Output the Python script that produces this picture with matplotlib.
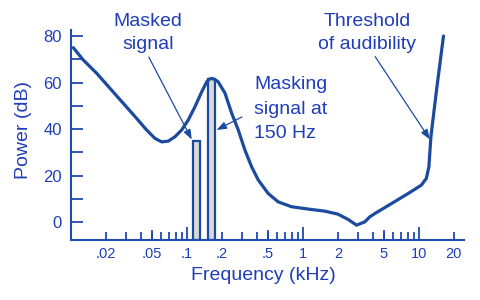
import matplotlib
matplotlib.use("Agg")
import matplotlib.pyplot as plt
from matplotlib.ticker import FixedLocator, FuncFormatter, NullLocator

# ---------------- data ----------------
freq_khz = [0.01047, 0.01276, 0.01664, 0.0217, 0.0282, 0.0368, 0.0449, 0.0530,
            0.0605, 0.069, 0.0788, 0.090, 0.1026, 0.1172, 0.134, 0.148, 0.155,
            0.163, 0.173, 0.186, 0.213, 0.243, 0.277, 0.316, 0.361, 0.412,
            0.502, 0.612, 0.798, 1.11, 1.55, 2.01, 2.46, 2.90, 3.42, 3.78, 4.18,
            5.82, 8.09, 10.5, 11.6, 12.2, 12.7, 14.2, 16.3]
level_db = [75.0, 69.7, 64.0, 57.5, 51.1, 44.6, 39.6, 36.0,
            34.5, 34.8, 36.7, 39.6, 43.9, 49.6, 56.0, 60.3, 61.4,
            61.8, 61.4, 60.3, 55.4, 46.8, 39.6, 31.0, 23.8, 18.1,
            12.3, 8.7, 6.6, 5.6, 4.7, 3.4, 1.1, -1.3, 0.1, 2.3, 3.7,
            8.0, 12.3, 15.9, 18.8, 23.8, 36.7, 56.8, 80]

bar_names = ["Masked signal", "Masking signal at 150 Hz"]
bar_freq_khz = [0.121, 0.162]
bar_level_db = [35, 61.5]

ytick_values = [0, 20, 40, 60, 80]
ytick_minor = [10, 30, 50, 70]
xtick_values = [0.02, 0.05, 0.1, 0.2, 0.5, 1, 2, 5, 10, 20]
xtick_labels = [".02", ".05", ".1", ".2", ".5", "1", "2", "5", "10", "20"]
x_decades = [0.1, 1, 10]
x_fives = [0.05, 0.5, 5]
x_minor = [0.02, 0.03, 0.04, 0.05, 0.06, 0.07, 0.08, 0.09,
           0.2, 0.3, 0.4, 0.5, 0.6, 0.7, 0.8, 0.9,
           2, 3, 4, 5, 6, 7, 8, 9, 20]

# ---------------- style ----------------
CURVE = "#1b4a9f"
AXIS = "#2149b0"
TEXT = "#1f3db8"
BAR_FILL = "#d9d9d9"

plt.rcParams["font.family"] = ["Liberation Sans", "DejaVu Sans"]

fig = plt.figure(figsize=(4.8, 3.0), dpi=100)
ax = fig.add_axes([71 / 480, 60 / 300, 393 / 480, 210 / 300])
ax.set_xscale("log")
YMIN, YMAX = -7.7, 82.6
ax.set_xlim(0.01, 24.5)
ax.set_ylim(YMIN, YMAX)

# bars
half = 1.076
lefts = [f / half for f in bar_freq_khz]
widths = [f * half - f / half for f in bar_freq_khz]
ax.bar(lefts, [h - YMIN for h in bar_level_db], width=widths, bottom=YMIN,
       align="edge", color=BAR_FILL, edgecolor=CURVE, linewidth=1.6, zorder=2)

# curve
ax.plot(freq_khz, level_db, color=CURVE, lw=2.3, solid_joinstyle="round",
        solid_capstyle="round", zorder=3)

# spines
for s in ["top", "right"]:
    ax.spines[s].set_visible(False)
for s in ["left", "bottom"]:
    ax.spines[s].set_color(AXIS)
    ax.spines[s].set_linewidth(1.5)

# y ticks
ax.yaxis.set_major_locator(FixedLocator(ytick_values))
ax.yaxis.set_minor_locator(FixedLocator(ytick_minor))
ax.tick_params(axis="y", which="both", direction="in", length=8.6, width=1.3,
               color=AXIS, labelcolor=TEXT, labelsize=12, pad=6.5)

# x ticks
label_map = {round(v, 4): t for v, t in zip(xtick_values, xtick_labels)}
fmt = FuncFormatter(lambda v, pos: label_map.get(round(v, 4), ""))
ax.xaxis.set_major_locator(FixedLocator(x_decades))
ax.xaxis.set_minor_locator(FixedLocator(x_minor))
ax.xaxis.set_major_formatter(fmt)
ax.xaxis.set_minor_formatter(fmt)
ax.tick_params(axis="x", which="major", direction="in", length=9.4, width=1.3,
               color=AXIS, labelcolor=TEXT, labelsize=10.5, pad=5)
ax.tick_params(axis="x", which="minor", direction="in", length=5.5, width=1.3,
               color=AXIS, labelcolor=TEXT, labelsize=10.5, pad=5)

sec = ax.secondary_xaxis("bottom")
sec.xaxis.set_major_locator(FixedLocator(x_fives))
sec.xaxis.set_minor_locator(NullLocator())
sec.tick_params(axis="x", which="major", direction="in", length=7.2, width=1.3,
                color=AXIS, labelbottom=False)
sec.spines["bottom"].set_visible(False)

# axis labels
fig.text(24 / 480, 1 - 130 / 300, "Power (dB)", rotation=90, ha="center",
         va="center", fontsize=14, color=TEXT)
fig.text(263 / 480, 1 - 275 / 300, "Frequency (kHz)", ha="center",
         va="center", fontsize=14, color=TEXT)

# annotations (va='baseline' anchors the last line's baseline)
ax.text(0.196, 0.908, "Masked\nsignal", transform=ax.transAxes, ha="center",
        va="baseline", fontsize=14, color=TEXT, linespacing=1.45)
ax.text(0.466, 0.487, "Masking\nsignal at\n150 Hz", transform=ax.transAxes,
        ha="left", va="baseline", fontsize=14, color=TEXT, linespacing=1.55)
ax.text(0.753, 0.908, "Threshold\nof audibility", transform=ax.transAxes,
        ha="center", va="baseline", fontsize=14, color=TEXT, linespacing=1.45)

arrow = dict(arrowstyle="-|>,head_length=0.45,head_width=0.17", color=CURVE,
             lw=0.9, mutation_scale=13, shrinkA=0, shrinkB=0)
ax.annotate("", xy=(0.11, 35.5), xycoords="data", xytext=(0.198, 0.871),
            textcoords="axes fraction", arrowprops=arrow)
ax.annotate("", xy=(0.180, 39.6), xycoords="data", xytext=(0.435, 0.586),
            textcoords="axes fraction", arrowprops=arrow)
ax.annotate("", xy=(12.44, 35.6), xycoords="data", xytext=(0.774, 0.873),
            textcoords="axes fraction", arrowprops=arrow)

fig.savefig("out.png", dpi=100)
